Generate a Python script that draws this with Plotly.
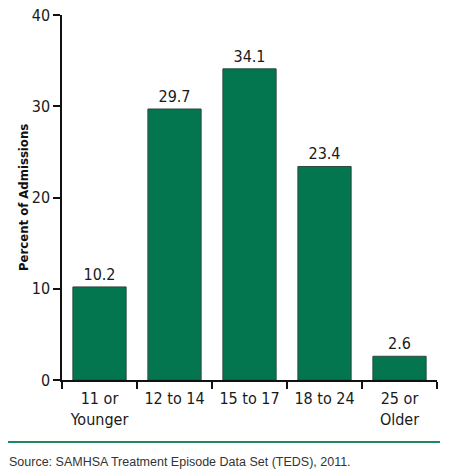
import plotly.graph_objects as go

age_groups = ["11 or<br>Younger", "12 to 14", "15 to 17", "18 to 24", "25 or<br>Older"]
percent_admissions = [10.2, 29.7, 34.1, 23.4, 2.6]
y_ticks = [0, 10, 20, 30, 40]

font_narrow = "DejaVu Sans Condensed, Liberation Sans Narrow, Arial Narrow, sans-serif"
green = "#03754F"

fig = go.Figure()
fig.add_trace(go.Bar(
    x=age_groups, y=percent_admissions,
    marker=dict(color=green, line=dict(color="#2e4a3c", width=1)),
    width=0.71,
    text=[f"{v:.1f}" for v in percent_admissions],
    textposition="outside", cliponaxis=False,
    textfont=dict(family=font_narrow, size=16, color="#1a1a1a"),
))

fig.update_layout(
    width=450, height=476,
    margin=dict(l=62, r=13, t=15, b=96, autoexpand=False),
    plot_bgcolor="white", paper_bgcolor="white",
    showlegend=False,
    font=dict(family=font_narrow, size=16, color="#1a1a1a"),
)
fig.update_xaxes(
    type="category", range=[-0.5, 4.5], tickson="boundaries",
    automargin=False,
    showline=True, linecolor="#111", linewidth=1.5,
    ticks="outside", ticklen=7, tickcolor="#111", tickwidth=1.5,
    ticklabelstandoff=3,
    showgrid=False, tickfont=dict(family=font_narrow, size=16, color="#1a1a1a"),
)
fig.update_yaxes(
    range=[0, 40], tickvals=y_ticks, automargin=False,
    showline=True, linecolor="#111", linewidth=1.5,
    ticks="outside", ticklen=7, tickcolor="#111", tickwidth=1.5,
    showgrid=False, zeroline=False,
    tickfont=dict(family=font_narrow, size=16, color="#1a1a1a"),
)

fig.add_annotation(
    text="<b>Percent of Admissions</b>", textangle=-90,
    xref="paper", yref="paper", x=-0.128, y=0.5, showarrow=False,
    font=dict(family=font_narrow, size=13, color="#111"),
)
fig.add_shape(
    type="line", xref="paper", yref="paper",
    x0=-0.144, x1=1.008, y0=-0.170, y1=-0.170,
    line=dict(color="#1f8a5e", width=2),
)
fig.add_annotation(
    text="Source: SAMHSA Treatment Episode Data Set (TEDS), 2011.",
    xref="paper", yref="paper", x=-0.146, y=-0.225, xanchor="left", yanchor="middle",
    showarrow=False,
    font=dict(family="Liberation Sans, Arial, sans-serif", size=12.5, color="#333"),
)

# drop the browser's default body margin so the figure sits at the page corner
fig.write_html(
    "out.html",
    config={"displayModeBar": False},
    post_script="document.body.style.margin = '0';",
)
